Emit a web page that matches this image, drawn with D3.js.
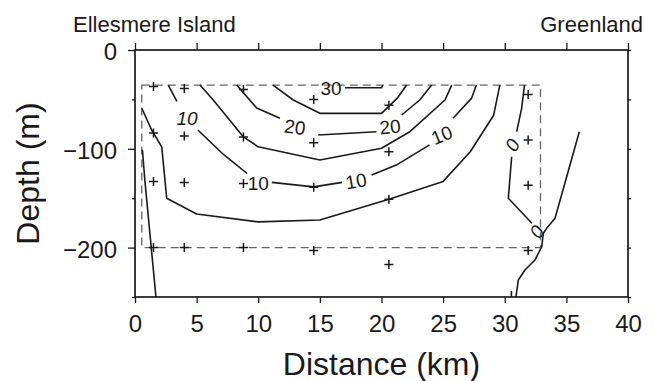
<!DOCTYPE html>
<html>
<head>
<meta charset="utf-8">
<script src="https://cdn.jsdelivr.net/npm/d3@7"></script>
<style>
  body { margin: 0; background: #fff; }
  svg { font-family: "Liberation Sans", Arial, Helvetica, sans-serif; }
</style>
</head>
<body>
<svg id="chart" width="656" height="381"></svg>
<script>
// station positions (km) and CTD sample depths (m)
const stationKm = [1.5, 4.0, 8.8, 14.5, 20.6, 31.9];
const sampleDepths = [
  [-37, -84, -133, -200],
  [-39, -87, -134, -200],
  [-40, -88, -135, -200],
  [-50, -94, -139, -203],
  [-56, -103, -151, -217],
  [-45, -91, -137, -203]
];

// sampled box
const boxKm = [0.55, 32.9];
const boxDepth = [-35.5, -200];

// contour lines, [km, depth]
const westSlope = [[0.6, -101], [0.8, -132], [1.7, -250]];
const contourOuter = [[0.55, -59], [1.35, -81], [2.17, -98], [2.57, -150], [5.0, -166], [10.0, -174],
  [15.0, -172], [20.6, -151], [25.0, -133], [27.2, -103], [29.1, -66], [29.6, -35.5]];
const contour10 = [
  [[2.7, -35.5], [3.4, -52]],
  [[5.1, -81], [7.2, -106], [9.1, -125]],
  [[11.1, -134], [14.5, -138.5], [16.8, -134]],
  [[19.2, -126.5], [21.2, -116.5], [23.9, -96]],
  [[25.8, -69], [27.3, -49], [27.7, -35.5]]
];
const contour15 = [[5.27, -35.5], [6.35, -50.6], [8.8, -88], [10.0, -98], [15.0, -111.3], [20.0, -99.5],
  [22.3, -82.7], [25.15, -50.6], [25.7, -35.5]];
const contour20 = [
  [[8.25, -35.5], [9.87, -58.7], [11.76, -69]],
  [[14.87, -86], [19.6, -82.7]],
  [[21.64, -65.8], [23.1, -50.6], [24.07, -35.5]]
];
const contour30 = [
  [[11.2, -35.5], [12.84, -50.6], [15.0, -64.1], [20.0, -64.1], [21.26, -49], [22.04, -35.5]],
  [[17.04, -38.2], [20.0, -38.2], [20.12, -35.5]]
];
const contour0 = [
  [[31.6, -35.5], [31.37, -59], [30.97, -82.7]],
  [[30.56, -108], [30.29, -150], [32.2, -175.4]]
];
const eastSlope = [
  [[36.05, -82.7], [34.08, -170.3], [33.4, -180.5], [33.13, -185.5], [33.0, -199], [32.45, -212.6],
   [31.64, -222.7], [31.1, -232.8], [30.91, -250]],
  [[30.54, -244], [30.54, -250]]
];

// contour labels
const labelText = ["10", "10", "10", "10", "20", "20", "30", "0", "0"];
const labelKm = [4.22, 10.0, 17.93, 24.88, 12.98, 20.69, 15.9, 30.61, 32.59];
const labelDepth = [-68.8, -134.6, -132.6, -86, -77.9, -77.6, -39, -96.2, -183.9];
const labelAngle = [0, 0, -10, -22, 8, -6, 0, -60, -55];
const labelItalic = [true, false, false, false, false, false, false, true, true];

const xTicks = d3.range(0, 41, 5);
const yMajor = [0, -100, -200];
const yMinor = [-50, -150, -250];

const svg = d3.select("#chart"),
  margin = { top: 50, right: 28, bottom: 84, left: 135 },
  width = +svg.attr("width"),
  height = +svg.attr("height");

const x = d3.scaleLinear().domain([0, 40]).range([margin.left, width - margin.right]);
const y = d3.scaleLinear().domain([0, -250]).range([margin.top, height - margin.bottom]);

const ink = "#1a1a1a";

// sampled box (dashed)
svg.append("rect")
  .attr("x", x(boxKm[0]))
  .attr("y", y(boxDepth[0]))
  .attr("width", x(boxKm[1]) - x(boxKm[0]))
  .attr("height", y(boxDepth[1]) - y(boxDepth[0]))
  .attr("fill", "none")
  .attr("stroke", "#666")
  .attr("stroke-width", 1.3)
  .attr("stroke-dasharray", "8,5");

// contours
const line = d3.line().x((d) => x(d[0])).y((d) => y(d[1]));
const segments = [westSlope, contourOuter, contour15]
  .concat(contour10, contour20, contour30, contour0, eastSlope);

svg.append("g")
  .selectAll("path")
  .data(segments)
  .join("path")
  .attr("d", line)
  .attr("fill", "none")
  .attr("stroke", ink)
  .attr("stroke-width", 1.6)
  .attr("stroke-linejoin", "round");

// contour labels
svg.append("g")
  .selectAll("text")
  .data(labelText)
  .join("text")
  .attr("transform", (d, i) => `translate(${x(labelKm[i])},${y(labelDepth[i])}) rotate(${labelAngle[i]})`)
  .attr("text-anchor", "middle")
  .attr("dy", "0.36em")
  .style("font-size", "19px")
  .style("font-style", (d, i) => (labelItalic[i] ? "italic" : "normal"))
  .attr("fill", ink)
  .text((d) => d);

// sample crosses
const samples = stationKm.flatMap((km, i) => sampleDepths[i].map((dep) => [km, dep]));
svg.append("g")
  .selectAll("path")
  .data(samples)
  .join("path")
  .attr("transform", (d) => `translate(${x(d[0])},${y(d[1])})`)
  .attr("d", "M-4.5,0H4.5M0,-4.5V4.5")
  .attr("stroke", ink)
  .attr("stroke-width", 1.5);

// axes
const fmt = (d) => (d < 0 ? "\u2212" + Math.abs(d) : d);
const axisStyle = (g) => {
  g.select(".domain").remove();
  g.selectAll("line").attr("stroke", ink).attr("stroke-width", 1.3);
  g.selectAll("text").attr("fill", ink).style("font-size", "24px");
};

svg.append("g")
  .attr("transform", `translate(0,${y(-250)})`)
  .call(d3.axisBottom(x).tickValues(xTicks).tickSize(6).tickPadding(12).tickFormat(d3.format("d")))
  .call(axisStyle);

svg.append("g")
  .attr("transform", `translate(0,${y(0)})`)
  .call(d3.axisTop(x).tickValues(xTicks).tickSize(7).tickFormat(""))
  .call(axisStyle);

svg.append("g")
  .attr("transform", `translate(${x(0)},0)`)
  .call(d3.axisLeft(y).tickValues(yMajor).tickSize(7).tickPadding(11).tickFormat(fmt))
  .call(axisStyle)
  .selectAll("text").attr("dy", "0.4em");

svg.append("g")
  .attr("transform", `translate(${x(0)},0)`)
  .call(d3.axisLeft(y).tickValues(yMinor).tickSize(3).tickFormat(""))
  .call(axisStyle);

svg.append("g")
  .attr("transform", `translate(${x(40)},0)`)
  .call(d3.axisRight(y).tickValues(yMajor.concat(yMinor)).tickSize(3).tickFormat(""))
  .call(axisStyle);

// frame
svg.append("rect")
  .attr("x", x(0))
  .attr("y", y(0))
  .attr("width", x(40) - x(0))
  .attr("height", y(-250) - y(0))
  .attr("fill", "none")
  .attr("stroke", ink)
  .attr("stroke-width", 1.7);

// axis titles
svg.append("text")
  .attr("x", (x(0) + x(40)) / 2)
  .attr("y", 375)
  .attr("text-anchor", "middle")
  .style("font-size", "32px")
  .attr("fill", ink)
  .text("Distance (km)");

svg.append("text")
  .attr("transform", `translate(39,${(y(0) + y(-250)) / 2}) rotate(-90)`)
  .attr("text-anchor", "middle")
  .style("font-size", "32px")
  .attr("fill", ink)
  .text("Depth (m)");

// place names
svg.append("text")
  .attr("x", 73)
  .attr("y", 31.5)
  .style("font-size", "22px")
  .attr("fill", ink)
  .text("Ellesmere Island");

svg.append("text")
  .attr("x", 643)
  .attr("y", 31.5)
  .attr("text-anchor", "end")
  .style("font-size", "22px")
  .attr("fill", ink)
  .text("Greenland");
</script>
</body>
</html>
